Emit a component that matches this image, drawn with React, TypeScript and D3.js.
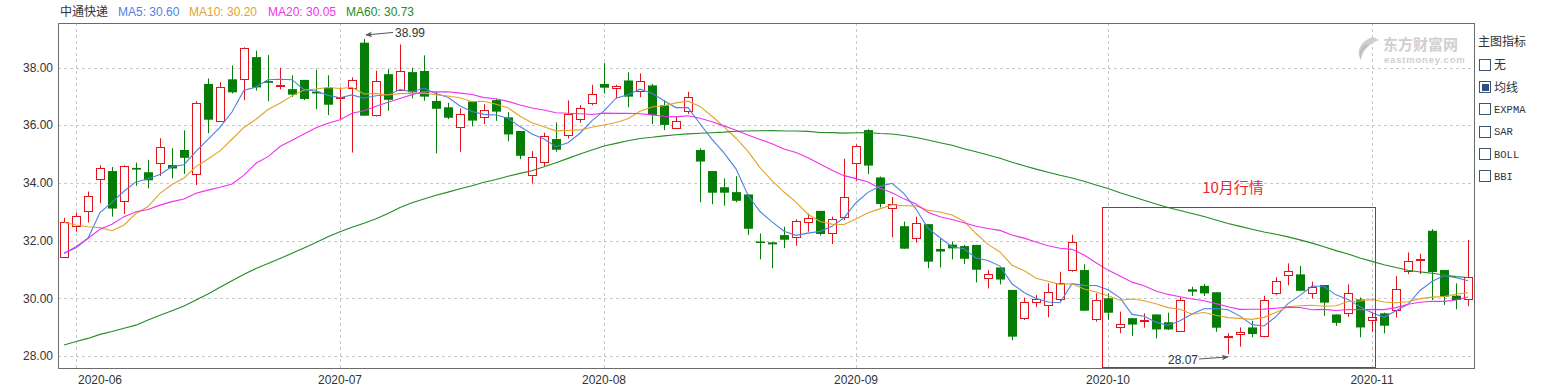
import { useMemo } from "react"
import * as d3 from "d3"

const W = 1546
const H = 389
const left = 58
const right = 1474
const top = 23
const bottom = 368

// daily candles, 2020-05-29 .. 2020-11-12
const opens = [
  31.42, 32.48, 33.0, 34.11, 34.41, 33.35, 34.52, 34.37, 34.68, 34.62,
  35.14, 34.3, 37.43, 36.13, 37.59, 37.59, 38.36, 37.53, 37.37, 37.25,
  37.57, 37.16, 37.3, 36.96, 37.28, 38.86, 36.36, 37.77, 37.24, 37.84,
  37.88, 36.84, 36.62, 35.93, 36.82, 36.27, 36.87, 36.27, 35.8, 34.26,
  34.7, 35.52, 35.64, 36.2, 36.76, 37.43, 37.28, 37.55, 37.19, 37.38,
  36.69, 35.93, 36.5, 35.14, 34.41, 33.85, 33.68, 33.6, 31.97, 31.94,
  32.19, 32.11, 32.67, 33.03, 32.25, 32.81, 34.68, 35.83, 34.19, 33.15,
  32.5, 32.08, 32.57, 31.71, 31.86, 31.81, 31.85, 30.69, 31.07, 30.29,
  29.29, 29.86, 29.79, 29.96, 30.98, 30.98, 29.27, 30.0, 28.99, 29.31,
  29.22, 29.44, 29.17, 28.85, 30.31, 30.43, 30.21, 28.65, 28.76, 28.99,
  28.7, 30.19, 30.83, 30.83, 30.17, 30.46, 29.44, 29.48, 29.96, 29.22,
  29.48, 29.57, 30.92, 31.35, 32.34, 30.98, 30.09, 30.0,
]
const highs = [
  32.79, 32.97, 33.7, 34.61, 34.55, 34.61, 34.7, 34.8, 35.55, 35.2,
  35.82, 36.83, 37.62, 37.49, 38.07, 38.7, 38.58, 38.43, 37.99, 37.73,
  37.57, 37.92, 37.73, 37.31, 37.66, 38.99, 37.89, 37.94, 38.8, 37.99,
  38.42, 37.16, 36.78, 36.58, 36.82, 36.73, 36.91, 36.45, 35.8, 35.1,
  35.74, 36.1, 36.86, 36.7, 37.4, 38.16, 37.4, 37.83, 37.8, 37.43,
  36.87, 36.3, 37.16, 35.2, 34.41, 34.16, 34.23, 33.6, 32.25, 31.94,
  32.48, 32.74, 32.94, 33.03, 32.83, 34.84, 35.34, 35.86, 34.22, 33.51,
  32.66, 32.83, 32.57, 32.06, 31.96, 31.85, 31.85, 30.98, 31.07, 30.29,
  30.02, 30.11, 30.52, 30.92, 32.2, 31.18, 30.17, 30.17, 29.54, 29.31,
  29.48, 29.44, 29.5, 30.03, 30.4, 30.5, 30.21, 28.79, 28.99, 29.22,
  30.09, 30.73, 31.21, 31.12, 30.58, 30.46, 29.44, 30.48, 30.03, 29.5,
  29.5, 30.77, 31.59, 31.54, 32.4, 30.98, 30.52, 32.02,
]
const lows = [
  31.42, 32.31, 32.63, 33.29, 32.83, 32.92, 33.9, 33.81, 34.24, 34.16,
  34.31, 33.93, 35.72, 36.13, 37.1, 36.87, 37.2, 36.83, 37.24, 36.98,
  36.87, 36.55, 36.35, 36.21, 35.05, 36.33, 36.3, 36.5, 37.2, 36.93,
  36.85, 35.02, 36.21, 35.08, 35.96, 36.04, 36.15, 35.44, 34.82, 33.98,
  34.56, 35.08, 35.54, 36.09, 36.69, 37.1, 36.93, 36.62, 36.97, 36.04,
  35.83, 35.89, 36.39, 33.33, 33.26, 33.21, 33.33, 32.19, 31.35, 31.04,
  31.74, 31.82, 32.31, 32.18, 31.88, 32.71, 34.07, 34.31, 33.15, 32.11,
  31.72, 31.93, 31.04, 31.07, 31.35, 31.19, 30.55, 30.34, 30.48, 28.55,
  29.25, 29.69, 29.34, 29.89, 30.92, 29.57, 29.19, 29.25, 28.79, 28.69,
  28.98, 28.61, 28.9, 28.85, 30.08, 30.08, 28.84, 28.07, 28.32, 28.65,
  28.65, 30.11, 30.45, 30.26, 30.0, 29.39, 29.04, 29.36, 28.65, 28.84,
  28.79, 29.33, 30.84, 30.84, 29.94, 29.77, 29.62, 29.73,
]
const closes = [
  32.63, 32.84, 33.53, 34.5, 33.11, 34.57, 34.46, 34.09, 35.23, 34.5,
  34.87, 36.77, 36.19, 37.31, 37.14, 38.66, 37.31, 37.47, 37.39, 37.06,
  36.91, 37.1, 36.71, 36.99, 37.55, 36.33, 37.53, 36.88, 37.89, 37.14,
  36.99, 36.57, 36.26, 36.38, 36.16, 36.51, 36.47, 35.68, 34.94, 34.89,
  35.61, 35.15, 36.38, 36.58, 37.07, 37.3, 37.35, 36.99, 37.54, 36.35,
  36.01, 36.16, 36.99, 34.74, 33.66, 33.66, 33.38, 32.41, 31.93, 31.87,
  32.03, 32.67, 32.8, 32.23, 32.74, 33.52, 35.27, 34.6, 33.27, 33.28,
  31.72, 32.6, 31.27, 31.62, 31.73, 31.37, 30.99, 30.84, 30.65, 28.67,
  29.86, 29.96, 30.23, 30.52, 31.96, 29.57, 29.94, 29.5, 29.11, 29.09,
  29.25, 28.92, 28.92, 29.94, 30.23, 30.17, 28.98, 28.69, 28.84, 28.76,
  29.94, 30.59, 30.96, 30.26, 30.38, 29.85, 29.15, 30.17, 28.99, 29.34,
  29.05, 30.31, 31.28, 31.37, 30.91, 30.06, 29.94, 30.75,
]

// moving average values before a full window is on screen
const ma5Head = [31.56, 31.75, 32.08, 32.97]
const ma10Head = [32.63, 32.54, 32.48, 32.45, 32.34, 32.54, 32.94, 33.18, 33.64]
const ma20Head = [
  31.56, 31.79, 32.08, 32.39, 32.57, 32.83, 33.0, 33.08, 33.23, 33.35,
  33.44, 33.64, 33.75, 33.85, 33.96, 34.27, 34.68, 34.91, 35.26,
]
const ma60Head = [
  28.38, 28.5, 28.61, 28.75, 28.85, 28.96, 29.07, 29.25, 29.41, 29.57,
  29.73, 29.94, 30.15, 30.38, 30.61, 30.83, 31.03, 31.21, 31.38, 31.56,
  31.74, 31.93, 32.13, 32.31, 32.46, 32.6, 32.76, 32.94, 33.15, 33.31,
  33.44, 33.57, 33.68, 33.8, 33.9, 34.02, 34.12, 34.23, 34.33, 34.42,
  34.56, 34.7, 34.85, 35.0, 35.14, 35.28, 35.37, 35.46, 35.54, 35.58,
  35.63, 35.67, 35.7, 35.72, 35.74, 35.76, 35.79, 35.8, 35.81,
]

const monthLabels = ["2020-06", "2020-07", "2020-08", "2020-09", "2020-10", "2020-11"]
const monthStartIdx = [1, 23, 45, 66, 87, 109]
const yTicks = [28, 30, 32, 34, 36, 38]

const maNames = ["MA5", "MA10", "MA20", "MA60"]
const maPeriods = [5, 10, 20, 60]
const maLast = [30.6, 30.2, 30.05, 30.73]
const maColors = ["#4f7fe6", "#e3a32a", "#f22ff2", "#238c23"]
const maHeads = [ma5Head, ma10Head, ma20Head, ma60Head]

const indicatorItems = ["无", "均线", "EXPMA", "SAR", "BOLL", "BBI"]
const checkedItem = "均线"

const UP = "#e4141c"
const DOWN = "#067d06"
const GRID = "#c9c9c9"
const TXT = "#333"
const FONT = "'Liberation Sans', Arial, sans-serif"
const CJK = "'Noto Sans CJK SC', sans-serif"

const App = () => {
  const x = useMemo(
    () => d3.scaleBand<number>().domain(d3.range(closes.length)).range([left, right]),
    []
  )
  const y = useMemo(() => d3.scaleLinear().domain([28, 38]).range([356, 67.5]), [])
  const cx = (i: number) => (x(i) as number) + x.bandwidth() / 2

  const maSeries = maPeriods.map((n, k) =>
    closes.map((_, i) =>
      i >= n - 1 ? d3.mean(closes.slice(i - n + 1, i + 1)) as number : maHeads[k][i]
    )
  )
  const line = d3.line<number>().x((_, i) => cx(i)).y(d => y(d))

  const hiIdx = d3.maxIndex(highs)
  const loIdx = d3.minIndex(lows)
  const hiX = cx(hiIdx), hiY = y(highs[hiIdx])
  const loX = cx(loIdx), loY = y(lows[loIdx])

  // October box
  const octStart = monthStartIdx[4]
  const novStart = monthStartIdx[5]
  const boxL = x(octStart) as number
  const boxR = cx(novStart) + 3
  const boxT = y(33.15)

  return (
    <svg width={W} height={H} style={{ position: "absolute", left: 0, top: 0, background: "#fff" }}>
      <defs>
        <marker id="arr" viewBox="0 0 10 10" refX="9" refY="5" markerWidth="7" markerHeight="7" orient="auto">
          <path d="M0,1 L10,5 L0,9 L3,5 z" fill="#555" />
        </marker>
      </defs>

      {/* legend */}
      <text x={60} y={16} fontSize={12} fontFamily={CJK} fill={TXT}>中通快递</text>
      {maNames.map((n, k) => (
        <text key={n} x={[118, 189, 268, 346][k]} y={16} fontSize={12} fontFamily={FONT} fill={maColors[k]}>
          {`${n}: ${maLast[k].toFixed(2)}`}
        </text>
      ))}

      {/* grid */}
      {yTicks.map(t => (
        <g key={t}>
          <line x1={left} x2={right} y1={Math.round(y(t)) + 0.5} y2={Math.round(y(t)) + 0.5}
            stroke={GRID} strokeDasharray="3,3" />
          <text x={53} y={y(t)} dy="0.35em" textAnchor="end" fontSize={12} fontFamily={FONT} fill={TXT}>
            {t.toFixed(2)}
          </text>
        </g>
      ))}
      {monthStartIdx.map((idx, k) => (
        <g key={idx}>
          <line x1={Math.round(cx(idx)) + 0.5} x2={Math.round(cx(idx)) + 0.5} y1={top} y2={bottom}
            stroke={GRID} strokeDasharray="3,3" />
          <text x={k === 0 ? cx(idx) + 2 : cx(idx)} y={384} textAnchor={k === 0 ? "start" : "middle"}
            fontSize={12} fontFamily={FONT} fill={TXT}>
            {monthLabels[k]}
          </text>
        </g>
      ))}

      {/* watermark */}
      <g fill="#cfcfcf">
        <path d="M1373,37 C1362,40 1355,50 1361,60 C1362,52 1367,45 1379,40 Z" />
        <path d="M1366,44 C1360,48 1358,54 1361,59 C1361,53 1363,49 1368,46 Z" fill="#bdbdbd" />
        <text x={1383} y={50} fontSize={15} fontWeight="bold" fontFamily={CJK}>东方财富网</text>
        <text x={1384} y={63} fontSize={9.5} fontWeight="bold" fontFamily={FONT} letterSpacing={0.8}>eastmoney.com</text>
      </g>

      {/* candles */}
      {closes.map((c, i) => {
        const o = opens[i]
        const up = c >= o
        const col = up ? UP : DOWN
        const xc = Math.round(cx(i))
        const yt = y(Math.max(o, c))
        const yb = y(Math.min(o, c))
        return (
          <g key={i}>
            <line x1={xc + 0.5} x2={xc + 0.5} y1={y(highs[i])} y2={y(lows[i])} stroke={col} />
            {up ? (
              <rect x={xc - 3.5} y={Math.round(yt) + 0.5} width={8}
                height={Math.max(1, Math.round(yb - yt))} fill="#fff" stroke={col} />
            ) : (
              <rect x={xc - 4} y={yt} width={9} height={Math.max(1.5, yb - yt)} fill={col} />
            )}
          </g>
        )
      })}

      {/* moving averages */}
      {maSeries.map((s, k) => (
        <path key={k} d={line(s) as string} fill="none" stroke={maColors[k]} strokeWidth={1.1} />
      ))}

      {/* max / min annotations */}
      <line x1={hiX + 29} y1={hiY - 6.5} x2={hiX + 2} y2={hiY - 4} stroke="#555" markerEnd="url(#arr)" />
      <text x={hiX + 31} y={hiY - 6} dy="0.35em" fontSize={12} fontFamily={FONT} fill={TXT}>
        {highs[hiIdx].toFixed(2)}
      </text>
      <line x1={loX - 29} y1={loY + 5} x2={loX} y2={loY + 3} stroke="#555" markerEnd="url(#arr)" />
      <text x={loX - 30} y={loY + 6} dy="0.35em" textAnchor="end" fontSize={12} fontFamily={FONT} fill={TXT}>
        {lows[loIdx].toFixed(2)}
      </text>

      {/* October highlight */}
      <rect x={boxL + 0.5} y={Math.round(boxT) + 0.5} width={boxR - boxL} height={bottom - 1 - Math.round(boxT)}
        fill="none" stroke="#e8141c" />
      <text x={boxL + 131} y={188} dy="0.35em" textAnchor="middle" fontSize={15}
        fontFamily={CJK} fill="#f0262a">10月行情</text>

      {/* frame */}
      <rect x={left + 0.5} y={top + 0.5} width={right - left} height={bottom - top} fill="none" stroke="#6b6b6b" />

      {/* indicator panel */}
      <text x={1478} y={46} fontSize={12} fontFamily={CJK} fill={TXT}>主图指标</text>
      {indicatorItems.map((name, k) => {
        const yy = 59 + k * 22.2
        const latin = /^[A-Z]+$/.test(name)
        return (
          <g key={name}>
            <rect x={1479.5} y={Math.round(yy) + 0.5} width={11} height={11} fill="#fff" stroke="#3e5570" />
            {name === checkedItem && (
              <rect x={1482} y={Math.round(yy) + 3} width={7} height={7} fill="#2e5185" />
            )}
            <text x={1494} y={yy + 6} dy="0.36em" fontSize={latin ? 10.5 : 12}
              fontFamily={latin ? "'Liberation Mono', monospace" : CJK} fill={TXT}>
              {name}
            </text>
          </g>
        )
      })}
    </svg>
  )
}

export default App
